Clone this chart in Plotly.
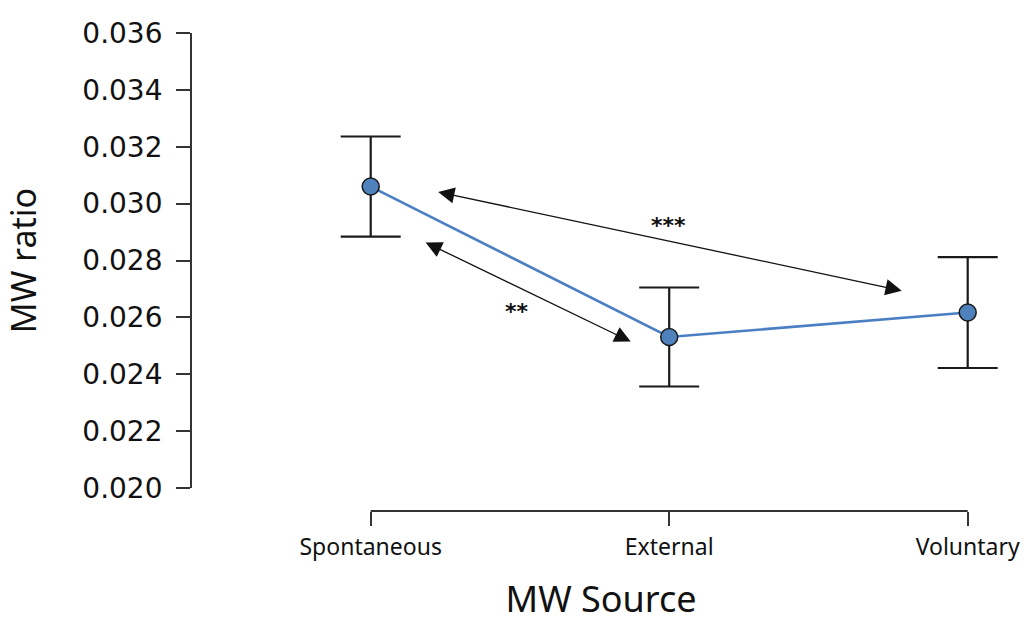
import plotly.graph_objects as go

# ---- data ----
categories = ["Spontaneous", "External", "Voluntary"]
cat_pos = [0, 1, 2]
mw_ratio = [0.03060, 0.02531, 0.02617]
mw_err = [0.00176, 0.00174, 0.00195]

y_ticks = [0.020, 0.022, 0.024, 0.026, 0.028, 0.030, 0.032, 0.034, 0.036]
y_ticktext = ["0.020", "0.022", "0.024", "0.026", "0.028", "0.030", "0.032", "0.034", "0.036"]

# significance comparisons: (tail x, tail y, head x, head y, label x, label y, label)
sig_tail_x = [0.221, 0.179]
sig_tail_y = [0.03042, 0.02866]
sig_head_x = [1.779, 0.871]
sig_head_y = [0.02694, 0.02515]
sig_label_x = [0.996, 0.490]
sig_label_y = [0.02924, 0.02622]
sig_labels = ["***", "**"]

comic = "Comic Sans MS, Noto Sans, sans-serif"
black = "#111111"

fig = go.Figure()
fig.add_trace(go.Scatter(
    x=cat_pos, y=mw_ratio,
    mode="lines+markers",
    line=dict(color="#4a7fc4", width=2.6),
    marker=dict(size=17, color="#4f81bd", line=dict(color="#1a1a1a", width=1.5)),
    error_y=dict(type="data", array=mw_err, visible=True, color="#1a1a1a",
                 thickness=2.2, width=30),
    cliponaxis=False,
    showlegend=False,
))

# x-axis baseline (spans only first to last category, like base R)
fig.add_shape(type="line", xref="x", yref="paper", x0=cat_pos[0], x1=cat_pos[-1],
              y0=0, y1=0, line=dict(color="#333333", width=1.8))

for tx, ty, hx, hy in zip(sig_tail_x, sig_tail_y, sig_head_x, sig_head_y):
    fig.add_annotation(x=hx, y=hy, ax=tx, ay=ty, xref="x", yref="y",
                       axref="x", ayref="y", showarrow=True, text="",
                       arrowhead=2, arrowside="end+start", arrowsize=2.5,
                       arrowwidth=1.3, arrowcolor=black, standoff=0, startstandoff=0)
for lx, ly, lt in zip(sig_label_x, sig_label_y, sig_labels):
    fig.add_annotation(x=lx, y=ly, xref="x", yref="y", text=lt, showarrow=False,
                       font=dict(family="DejaVu Sans", size=22, color=black, weight="bold"))

fig.update_layout(
    width=1024, height=623,
    margin=dict(l=192, r=14, t=33, b=112),
    plot_bgcolor="white", paper_bgcolor="white",
    xaxis=dict(
        range=[-0.5987, 2.1417],
        anchor="free", position=0,
        tickvals=cat_pos, ticktext=categories,
        showline=False, showgrid=False, zeroline=False,
        ticks="outside", ticklen=14, tickwidth=1.8, tickcolor="#333333",
        ticklabelstandoff=1,
        automargin=False,
        tickfont=dict(family=comic, size=23, color="#111111"),
        title=dict(text="MW Source", font=dict(family=comic, size=36, color="#111111"),
                   standoff=52),
    ),
    yaxis=dict(
        range=[0.020, 0.036], domain=[0.0481, 1],
        tickvals=y_ticks, ticktext=y_ticktext,
        showline=True, linecolor="#333333", linewidth=1.8,
        showgrid=False, zeroline=False,
        ticks="outside", ticklen=14, tickwidth=1.8, tickcolor="#333333",
        ticklabelstandoff=8,
        automargin=False,
        tickfont=dict(family="DejaVu Sans", size=28, color="#111111"),
        title=dict(text="MW ratio", font=dict(family=comic, size=34, color="#111111"),
                   standoff=37),
    ),
)

fig.write_html("out.html", config={"displayModeBar": False},
               post_script="document.body.style.margin='0px';")
